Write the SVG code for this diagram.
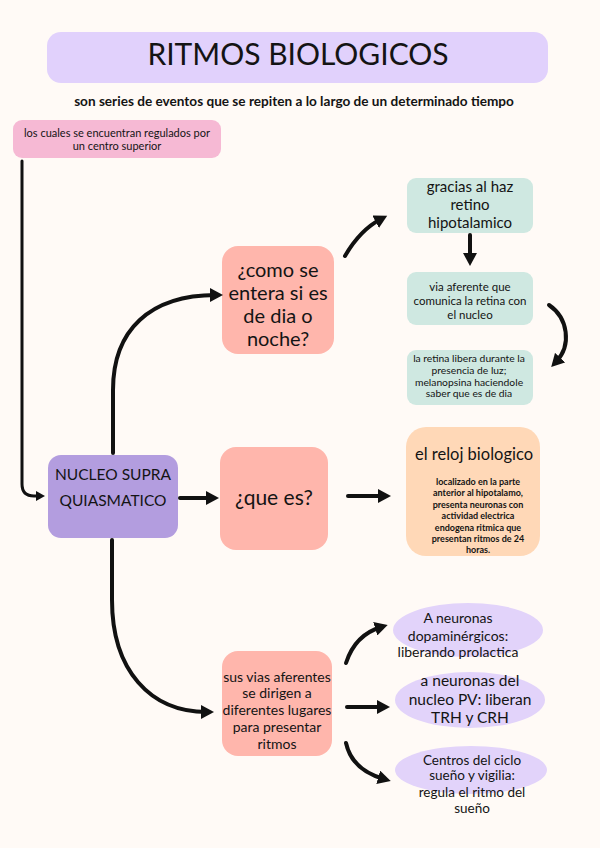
<svg xmlns="http://www.w3.org/2000/svg" width="600" height="848" viewBox="0 0 600 848">
<defs>
<marker id="ah" markerUnits="userSpaceOnUse" markerWidth="14" markerHeight="14" refX="6" refY="7" orient="auto" viewBox="0 0 14 14">
<path d="M0,0 L13,7 L0,14 z" fill="#111"/>
</marker>
<marker id="ahs" markerUnits="userSpaceOnUse" markerWidth="10" markerHeight="10" refX="4" refY="5" orient="auto" viewBox="0 0 10 10">
<path d="M0,0 L9,5 L0,10 z" fill="#111"/>
</marker>
</defs>
<style>
text{font-family:Lato,"Open Sans","Liberation Sans",sans-serif;fill:#141414;text-anchor:middle}
.c{fill:none;stroke:#111;stroke-width:4;stroke-linecap:round}
.t{font-size:15px}
</style>
<rect width="600" height="848" fill="#fffaf6"/>
<g id="title">
<rect x="47" y="32" width="501" height="51" rx="14" fill="#e1d1fc"/>
<text x="298" y="65" style="font-size:30px">RITMOS BIOLOGICOS</text>
</g>
<g id="subtitle">
<text x="294" y="106" style="font-size:13.6px;font-weight:bold">son series de eventos que se repiten a lo largo de un determinado tiempo</text>
</g>
<g id="regulados">
<rect x="13" y="120" width="208" height="38" rx="9" fill="#f6b9d4"/>
<text x="117" y="137" style="font-size:11px">los cuales se encuentran regulados por</text>
<text x="117" y="150" style="font-size:11px">un centro superior</text>
</g>
<g id="nucleo">
<rect x="48" y="455" width="130" height="83" rx="13" fill="#b39ddf"/>
<text x="113" y="480" style="font-size:15.5px">NUCLEO SUPRA</text>
<text x="113" y="506" style="font-size:15.5px">QUIASMATICO</text>
</g>
<g id="como">
<rect x="222" y="246" width="112" height="108" rx="16" fill="#ffb6ac"/>
<text x="278" y="277" style="font-size:20px">¿como se</text>
<text x="278" y="300" style="font-size:20px">entera si es</text>
<text x="278" y="323" style="font-size:20px">de dia o</text>
<text x="278" y="346" style="font-size:20px">noche?</text>
</g>
<g id="quees">
<rect x="220" y="447" width="108" height="103" rx="16" fill="#ffb6ac"/>
<text x="274" y="505" style="font-size:21px">¿que es?</text>
</g>
<g id="susvias">
<rect x="222" y="651" width="110" height="105" rx="16" fill="#ffb6ac"/>
<text x="277" y="682" style="font-size:14px">sus vias aferentes</text>
<text x="277" y="698" style="font-size:14px">se dirigen a</text>
<text x="277" y="715" style="font-size:14px">diferentes lugares</text>
<text x="277" y="732" style="font-size:14px">para presentar</text>
<text x="277" y="749" style="font-size:14px">ritmos</text>
</g>
<g id="gracias">
<rect x="407" y="178" width="126" height="55" rx="9" fill="#cfe8e1"/>
<text x="470" y="192" class="t">gracias al haz</text>
<text x="470" y="210" class="t">retino</text>
<text x="470" y="228" class="t">hipotalamico</text>
</g>
<g id="via">
<rect x="407" y="272" width="126" height="53" rx="9" fill="#cfe8e1"/>
<text x="470" y="291" style="font-size:11.5px">via aferente que</text>
<text x="470" y="305" style="font-size:11.5px">comunica la retina con</text>
<text x="470" y="319" style="font-size:11.5px">el nucleo</text>
</g>
<g id="retina">
<rect x="407" y="350" width="126" height="55" rx="9" fill="#cfe8e1"/>
<text x="469" y="361.5" style="font-size:10.3px">la retina libera durante la</text>
<text x="469" y="373.5" style="font-size:10.3px">presencia de luz;</text>
<text x="469" y="385.5" style="font-size:10.3px">melanopsina haciendole</text>
<text x="469" y="396.5" style="font-size:10.3px">saber que es de dia</text>
</g>
<g id="reloj">
<rect x="406" y="427" width="134" height="129" rx="20" fill="#ffd8b7"/>
<text x="474" y="460" style="font-size:16.5px">el reloj biologico</text>
<g style="font-size:9px;font-weight:bold">
<text x="478" y="485">localizado en la parte</text>
<text x="478" y="496">anterior al hipotalamo,</text>
<text x="478" y="507.5">presenta neuronas con</text>
<text x="478" y="519">actividad electrica</text>
<text x="478" y="531">endogena ritmica que</text>
<text x="478" y="542">presentan ritmos de 24</text>
<text x="478" y="553">horas.</text>
</g>
</g>
<g id="dopa">
<ellipse cx="468" cy="630" rx="75" ry="27" fill="#e2d3fa"/>
<text x="458" y="623" style="font-size:14px">A neuronas</text>
<text x="458" y="641" style="font-size:14px">dopaminérgicos:</text>
<text x="458" y="657" style="font-size:14px">liberando prolactica</text>
</g>
<g id="pv">
<ellipse cx="470" cy="700" rx="75" ry="28" fill="#e2d3fa"/>
<text x="470" y="686" style="font-size:15.5px">a neuronas del</text>
<text x="470" y="705" style="font-size:15.5px">nucleo PV: liberan</text>
<text x="470" y="723" style="font-size:15.5px">TRH y CRH</text>
</g>
<g id="sueno">
<ellipse cx="471" cy="770" rx="76" ry="24" fill="#e2d3fa"/>
<text x="472" y="765" style="font-size:13.5px">Centros del ciclo</text>
<text x="472" y="780" style="font-size:13.5px">sueño y vigilia:</text>
<text x="472" y="797" style="font-size:13.5px">regula el ritmo del</text>
<text x="472" y="813" style="font-size:13.5px">sueño</text>
</g>
<g id="connectors">
<path class="c" style="stroke-width:3" d="M22,161 L22,484 Q22,496 34,496 L40,496" marker-end="url(#ahs)"/>
<path class="c" d="M113,453 L113,390 C113,330 150,295 216,295" marker-end="url(#ah)"/>
<path class="c" d="M112,540 L112,600 C112,670 150,712 207,712" marker-end="url(#ah)"/>
<path class="c" d="M180,498 L212,498" marker-end="url(#ah)"/>
<path class="c" d="M348,496 L384,496" marker-end="url(#ah)"/>
<path class="c" d="M345,256 Q360,230 381,219" marker-end="url(#ah)"/>
<path class="c" d="M470,235 L470,259" marker-end="url(#ah)"/>
<path class="c" d="M549,305 C568,318 572,345 556,362" marker-end="url(#ah)"/>
<path class="c" d="M346,663 Q355,635 381,627" marker-end="url(#ah)"/>
<path class="c" d="M347,707 L383,707" marker-end="url(#ah)"/>
<path class="c" d="M346,743 Q352,770 384,779" marker-end="url(#ah)"/>
</g>
</svg>
